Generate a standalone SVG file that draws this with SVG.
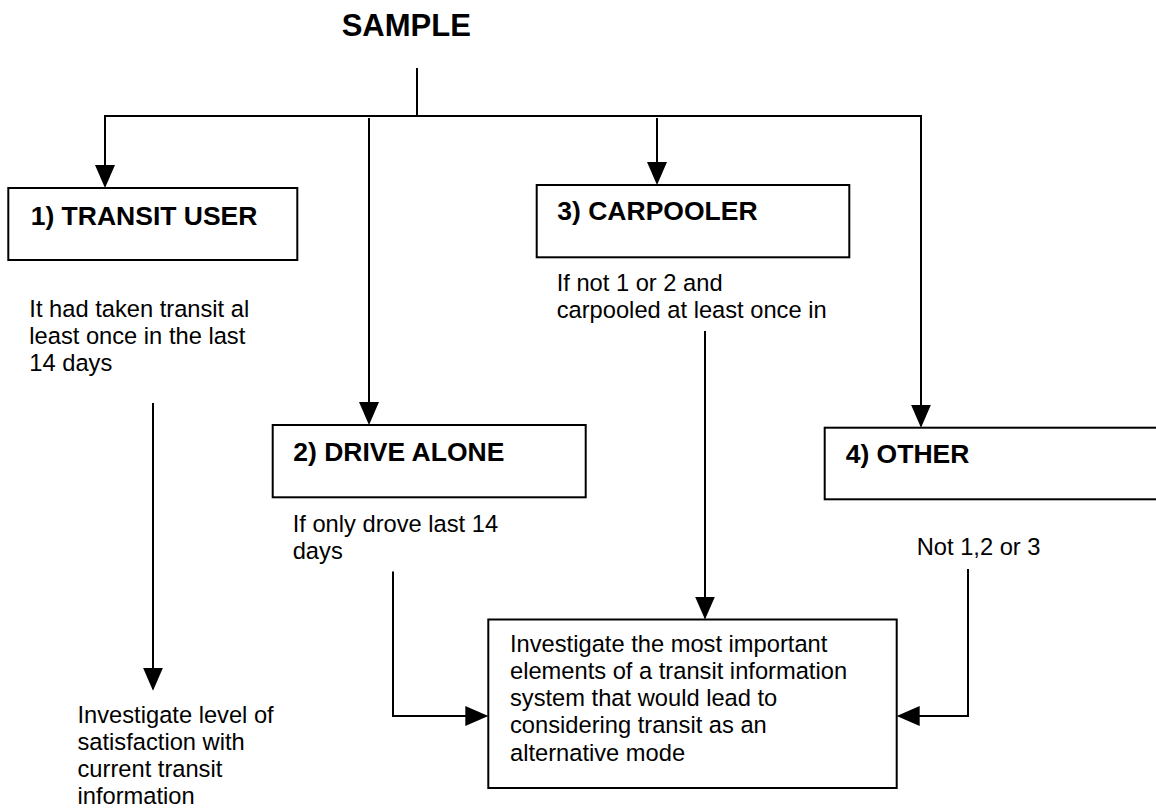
<svg xmlns="http://www.w3.org/2000/svg" width="1156" height="812" viewBox="0 0 1156 812">
<style>
.box{fill:#fff;stroke:#000;stroke-width:2}
.ln{fill:none;stroke:#000;stroke-width:2;marker-end:url(#ah)}
.pl{fill:none;stroke:#000;stroke-width:2}
.h{font-family:"Liberation Sans",Arial,sans-serif;font-weight:bold;font-size:26.5px;fill:#000}
.t{font-family:"Liberation Sans",Arial,sans-serif;font-size:23.7px;fill:#000}
</style>
<defs>
<marker id="ah" markerUnits="userSpaceOnUse" markerWidth="24" markerHeight="22" refX="21" refY="10" orient="auto">
<path d="M0,0 L23,10 L0,20 Z" fill="#000"/>
</marker>
</defs>
<rect width="1156" height="812" fill="#fff"/>
<g id="title"><text x="341.7" y="36" style="font-family:'Liberation Sans',Arial,sans-serif;font-weight:bold;font-size:31px">SAMPLE</text></g>
<g id="connectors">
<path class="pl" d="M417,68 V116"/>
<path class="ln" d="M417,116 H105 V186"/>
<path class="ln" d="M417,116 H921 V425.7"/>
<path class="ln" d="M369,118 V423"/>
<path class="ln" d="M657,118 V183"/>
<path class="ln" d="M153,403 V688.7"/>
<path class="ln" d="M705,331 V617.5"/>
<path class="ln" d="M393,571.5 V716 H486.3"/>
<path class="ln" d="M968,569 V716 H898.7"/>
</g>
<g id="transit-user">
<rect class="box" x="8.3" y="188" width="289" height="72"/>
<text class="h" x="30.7" y="225">1) TRANSIT USER</text>
</g>
<g id="transit-note">
<text class="t" x="29.3" y="316.7">It had taken transit al</text>
<text class="t" x="29.3" y="343.9">least once in the last</text>
<text class="t" x="29.3" y="371.1">14 days</text>
</g>
<g id="drive-alone">
<rect class="box" x="272.7" y="425" width="313" height="72.3"/>
<text class="h" x="293.3" y="460.7">2) DRIVE ALONE</text>
</g>
<g id="drive-note">
<text class="t" x="292.7" y="531.7">If only drove last 14</text>
<text class="t" x="292.7" y="558.9">days</text>
</g>
<g id="carpooler">
<rect class="box" x="536.7" y="185" width="312.6" height="72.3"/>
<text class="h" x="557.3" y="220">3) CARPOOLER</text>
</g>
<g id="carpool-note">
<text class="t" x="556.7" y="290.7">If not 1 or 2 and</text>
<text class="t" x="556.7" y="317.9">carpooled at least once in</text>
</g>
<g id="other">
<rect class="box" x="824.7" y="427.7" width="340" height="71.6"/>
<text class="h" x="845.7" y="463.3">4) OTHER</text>
</g>
<g id="other-note">
<text class="t" x="916.7" y="555">Not 1,2 or 3</text>
</g>
<g id="satisfaction">
<text class="t" x="77.5" y="723.3">Investigate level of</text>
<text class="t" x="77.5" y="750.3">satisfaction with</text>
<text class="t" x="77.5" y="777.3">current transit</text>
<text class="t" x="77.5" y="804.3">information</text>
</g>
<g id="investigate">
<rect class="box" x="488.3" y="619.5" width="408.4" height="168.5"/>
<text class="t" x="510" y="651.7">Investigate the most important</text>
<text class="t" x="510" y="678.9">elements of a transit information</text>
<text class="t" x="510" y="706.1">system that would lead to</text>
<text class="t" x="510" y="733.3">considering transit as an</text>
<text class="t" x="510" y="760.5">alternative mode</text>
</g>
</svg>
